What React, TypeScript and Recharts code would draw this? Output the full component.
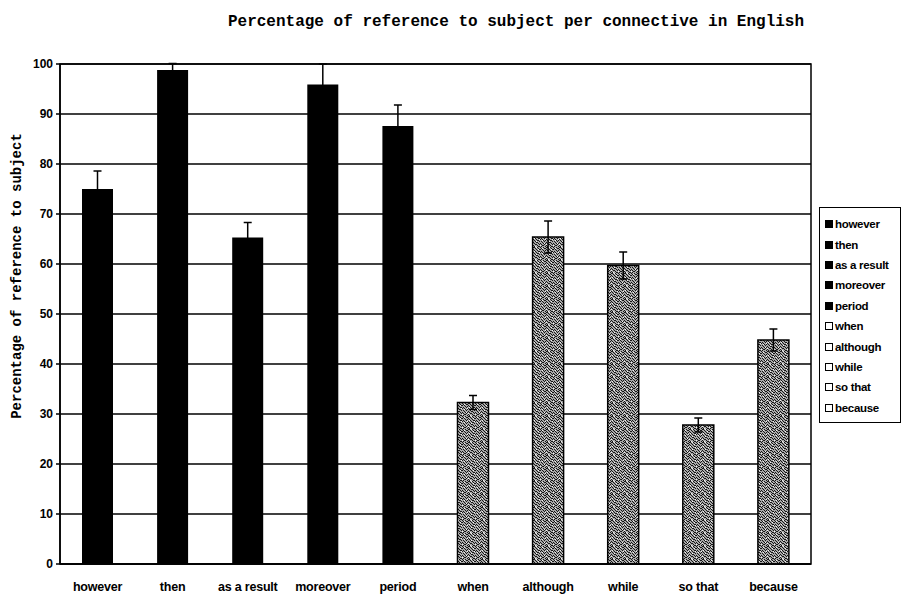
import React from 'react';
import {
  BarChart,
  Bar,
  XAxis,
  YAxis,
  CartesianGrid,
  ErrorBar,
  Cell,
  Legend,
  ReferenceArea,
  Label,
} from 'recharts';

const categories = ['however', 'then', 'as a result', 'moreover', 'period', 'when', 'although', 'while', 'so that', 'because'];
const values = [75.0, 98.8, 65.3, 95.9, 87.6, 32.3, 65.4, 59.7, 27.8, 44.8];
const errors = [3.6, 1.3, 3.0, 4.1, 4.2, 1.4, 3.2, 2.7, 1.4, 2.2];
const kinds = ['solid', 'solid', 'solid', 'solid', 'solid', 'stipple', 'stipple', 'stipple', 'stipple', 'stipple'];
const yTicks = [0, 10, 20, 30, 40, 50, 60, 70, 80, 90, 100];

const TITLE = 'Percentage of reference to subject per connective in English';
const Y_LABEL = 'Percentage of reference to subject';

const data = categories.map((name, i) => ({ name, value: values[i], err: errors[i], kind: kinds[i] }));

const SANS = '"Liberation Sans", Arial, sans-serif';
const MONO = '"Liberation Mono", "Courier New", monospace';

// stipple texture specks (decorative fill pattern, 13x13 tile)
const darkSpecks = [
  [0, 0], [1, 0], [4, 0], [7, 0], [10, 0], [2, 1], [5, 1], [8, 1], [11, 1], [12, 1],
  [0, 2], [3, 2], [6, 2], [7, 2], [9, 2], [1, 3], [4, 3], [10, 3], [12, 3], [2, 4],
  [5, 4], [6, 4], [8, 4], [11, 4], [0, 5], [3, 5], [7, 5], [9, 5], [1, 6], [4, 6],
  [5, 6], [10, 6], [12, 6], [2, 7], [6, 7], [8, 7], [11, 7], [0, 8], [3, 8], [4, 8],
  [9, 8], [1, 9], [5, 9], [7, 9], [10, 9], [12, 9], [2, 10], [3, 10], [6, 10], [8, 10],
  [11, 10], [0, 11], [4, 11], [9, 11], [10, 11], [1, 12], [5, 12], [6, 12], [8, 12], [12, 12],
];
const lightSpecks = [
  [3, 0], [9, 1], [1, 4], [12, 5], [6, 5], [3, 7], [9, 6], [7, 11], [2, 12], [11, 9], [5, 2], [0, 10],
];

const LegendBox = () => (
  <div
    style={{
      border: '1px solid #000',
      background: '#fff',
      width: 82,
      padding: '6px 0 4px 5px',
      boxSizing: 'border-box',
      fontFamily: SANS,
      fontSize: 11.5,
      fontWeight: 'bold',
      color: '#000',
      textAlign: 'left',
    }}
  >
    {categories.map((c, i) => (
      <div key={c} style={{ display: 'flex', alignItems: 'center', height: 20.4, whiteSpace: 'nowrap' }}>
        <span
          style={{
            display: 'inline-block',
            width: 6,
            height: 6,
            border: '1px solid #000',
            background: kinds[i] === 'solid' ? '#000' : '#fff',
            marginRight: 2,
          }}
        />
        <span style={{ letterSpacing: -0.3 }}>{c}</span>
      </div>
    ))}
  </div>
);

export default function App() {
  return (
    <div style={{ position: 'absolute', left: 0, top: 0, width: 903, height: 595, background: '#fff' }}>
      <div
        style={{
          position: 'absolute',
          left: 516,
          top: 13,
          transform: 'translateX(-50%)',
          whiteSpace: 'nowrap',
          fontFamily: MONO,
          fontWeight: 'bold',
          fontSize: 16,
          color: '#000',
        }}
      >
        {TITLE}
      </div>
      <BarChart
        width={903}
        height={595}
        data={data}
        margin={{ top: 64, right: 92, bottom: 0, left: 0 }}
        barCategoryGap="20%"
      >
        <defs>
          <pattern id="stipple" width="13" height="13" patternUnits="userSpaceOnUse">
            <rect x="0" y="0" width="13" height="13" fill="#a8a8a8" />
            {darkSpecks.map(([x, y], i) => (
              <rect key={'d' + i} x={x} y={y} width="1" height="1" fill="#151515" />
            ))}
            {lightSpecks.map(([x, y], i) => (
              <rect key={'l' + i} x={x} y={y} width="1" height="1" fill="#f2f2f2" />
            ))}
          </pattern>
        </defs>
        <CartesianGrid vertical={false} stroke="#000" strokeWidth={1.5} />
        <ReferenceArea y1={0} y2={100} fill="none" stroke="#000" strokeWidth={1.5} ifOverflow="visible" />
        <XAxis
          dataKey="name"
          height={31}
          tickLine={false}
          axisLine={{ stroke: '#000', strokeWidth: 1.5 }}
          tickMargin={12}
          tick={{ fill: '#000', fontFamily: SANS, fontSize: 12.5, fontWeight: 'bold', letterSpacing: -0.2 }}
          interval={0}
        />
        <YAxis
          width={60}
          domain={[0, 100]}
          ticks={yTicks}
          interval={0}
          tickSize={4}
          tickMargin={3}
          tickLine={{ stroke: '#000', strokeWidth: 1.5 }}
          axisLine={{ stroke: '#000', strokeWidth: 1.5 }}
          tick={{ fill: '#000', fontFamily: SANS, fontSize: 12, fontWeight: 'bold' }}
          allowDataOverflow
        >
          <Label
            value={Y_LABEL}
            angle={-90}
            position="center"
            dx={-14}
            dy={-38}
            style={{ fontFamily: MONO, fontWeight: 'bold', fontSize: 14, fill: '#000' }}
          />
        </YAxis>
        <Legend
          layout="horizontal"
          verticalAlign="middle"
          align="center"
          content={() => <LegendBox />}
          wrapperStyle={{ position: 'absolute', left: 819, top: 207, width: 84 }}
        />
        <Bar dataKey="value" barSize={31} isAnimationActive={false}>
          {data.map((d) => (
            <Cell
              key={d.name}
              fill={d.kind === 'solid' ? '#000' : 'url(#stipple)'}
              stroke={d.kind === 'solid' ? 'none' : '#000'}
              strokeWidth={1.5}
            />
          ))}
          <ErrorBar dataKey="err" width={4} stroke="#000" strokeWidth={1.5} direction="y" />
        </Bar>
      </BarChart>
    </div>
  );
}
